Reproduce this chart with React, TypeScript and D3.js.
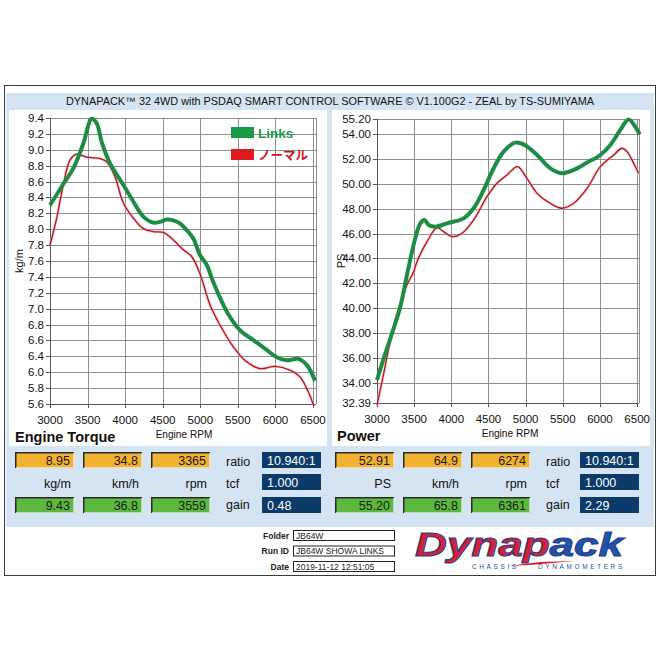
import React from "react";
import * as d3 from "d3";

const rpmTicks = [3000, 3500, 4000, 4500, 5000, 5500, 6000, 6500];
const torqueTickLabels = ["5.6", "5.8", "6.0", "6.4", "6.6", "6.8", "7.0", "7.2", "7.4", "7.6", "7.8", "8.0", "8.2", "8.4", "8.6", "8.8", "9.0", "9.2", "9.4"];
const powerTickValues = [32.39, 34, 36, 38, 40, 42, 44, 46, 48, 50, 52, 54, 55.2];

const torqueLinksRpm = [3000, 3156, 3310, 3443, 3555, 3621, 3688, 3798, 3976, 4109, 4242, 4375, 4464, 4553, 4641, 4730, 4819, 4907, 4996, 5085, 5173, 5352, 5529, 5706, 5884, 6017, 6150, 6305, 6416, 6527];
const torqueLinks = [8.24, 8.49, 8.73, 9.06, 9.39, 9.33, 9.08, 8.8, 8.51, 8.29, 8.09, 8.01, 8.02, 8.05, 8.04, 8.0, 7.91, 7.8, 7.58, 7.45, 7.22, 6.83, 6.58, 6.45, 6.32, 6.22, 6.18, 6.2, 6.12, 5.91];

const torqueNormalRpm = [3000, 3089, 3177, 3266, 3355, 3488, 3665, 3755, 3865, 3976, 4109, 4242, 4375, 4508, 4641, 4774, 4885, 4996, 5129, 5262, 5440, 5617, 5795, 5994, 6194, 6327, 6438, 6513];
const torqueNormal = [7.71, 8.07, 8.51, 8.84, 8.92, 8.88, 8.86, 8.82, 8.62, 8.27, 8.07, 7.93, 7.89, 7.88, 7.78, 7.65, 7.56, 7.33, 6.92, 6.65, 6.36, 6.16, 6.07, 6.1, 6.05, 5.96, 5.76, 5.57];

const powerLinksRpm = [3000, 3090, 3202, 3314, 3403, 3515, 3583, 3640, 3694, 3784, 3942, 4165, 4300, 4435, 4569, 4704, 4861, 4990, 5153, 5332, 5489, 5646, 5826, 6005, 6140, 6274, 6386, 6475, 6534];
const powerLinks = [34.24, 35.98, 37.99, 40.12, 42.67, 45.62, 46.82, 47.09, 46.69, 46.55, 46.82, 47.22, 48.03, 49.5, 51.24, 52.58, 53.3, 53.1, 52.31, 51.24, 50.84, 51.11, 51.7, 52.31, 53.12, 54.33, 55.15, 54.58, 53.97];

const powerNormalRpm = [3000, 3090, 3202, 3314, 3403, 3493, 3538, 3673, 3808, 3896, 4009, 4144, 4300, 4480, 4614, 4749, 4890, 5018, 5153, 5332, 5489, 5646, 5826, 6005, 6184, 6296, 6364, 6453, 6520];
const powerNormal = [32.2, 34.77, 37.99, 40.4, 41.87, 42.94, 43.74, 45.35, 46.47, 46.15, 45.75, 46.02, 47.09, 48.96, 50.04, 50.7, 51.37, 50.43, 49.23, 48.43, 48.03, 48.43, 49.63, 51.37, 52.31, 52.85, 52.58, 51.65, 50.84];

const legendNames = ["Links", "ノーマル"];

const torqueOrange = ["8.95", "34.8", "3365"];
const torqueGreen = ["9.43", "36.8", "3559"];
const torqueUnits = ["kg/m", "km/h", "rpm"];
const torqueDark = ["10.940:1", "1.000", "0.48"];
const powerOrange = ["52.91", "64.9", "6274"];
const powerGreen = ["55.20", "65.8", "6361"];
const powerUnits = ["PS", "km/h", "rpm"];
const powerDark = ["10.940:1", "1.000", "2.29"];
const sideLabels = ["ratio", "tcf", "gain"];

const footerLabels = ["Folder", "Run ID", "Date"];
const footerValues = ["JB64W", "JB64W SHOWA LINKS", "2019-11-12 12:51:05"];

const FONT = "'Liberation Sans', Arial, Helvetica, sans-serif";
const GREEN = "#1f8c45";
const RED = "#b0141e";
const GRID = "#8e8e8e";

type Series = { rpm: number[]; val: number[] };

function Chart(props: {
  x0: number; x1: number; y0: number; y1: number;
  xDomain: [number, number]; yDomain: [number, number];
  yTicks: { v: number; label: string }[];
  links: Series; normal: Series;
  yTitle: string; yTitleX: number; title: string; titleX: number; rpmTitleX: number;
  legend?: boolean;
}) {
  const { x0, x1, y0, y1, xDomain, yDomain, yTicks, links, normal } = props;
  const x = d3.scaleLinear().domain(xDomain).range([x0, x1]);
  const y = d3.scaleLinear().domain(yDomain).range([y1, y0]);
  const line = d3.line<[number, number]>().x((d) => x(d[0])).y((d) => y(d[1])).curve(d3.curveCatmullRom.alpha(0.5));
  const lp = line(links.rpm.map((r, i) => [r, links.val[i]]) as [number, number][]) || "";
  const np = line(normal.rpm.map((r, i) => [r, normal.val[i]]) as [number, number][]) || "";
  return (
    <g fontFamily={FONT}>
      {yTicks.map((t, i) => (
        <g key={"h" + i}>
          <line x1={x0} x2={x1} y1={Math.round(y(t.v)) + 0.5} y2={Math.round(y(t.v)) + 0.5} stroke={GRID} strokeWidth={1} />
          <line x1={x0 - 4} x2={x0} y1={Math.round(y(t.v)) + 0.5} y2={Math.round(y(t.v)) + 0.5} stroke="#555" strokeWidth={1} />
          <text x={x0 - 6} y={y(t.v) + 4} textAnchor="end" fontSize={11.5} fill="#111">{t.label}</text>
        </g>
      ))}
      {rpmTicks.map((r) => (
        <g key={"v" + r}>
          <line x1={Math.round(x(r)) + 0.5} x2={Math.round(x(r)) + 0.5} y1={y0} y2={y1} stroke={GRID} strokeWidth={1} />
          <line x1={Math.round(x(r)) + 0.5} x2={Math.round(x(r)) + 0.5} y1={y1} y2={y1 + 4} stroke="#555" strokeWidth={1} />
          <text x={x(r)} y={y1 + 20} textAnchor="middle" fontSize={11.5} fill="#111">{r}</text>
        </g>
      ))}
      <line x1={Math.round(x1) + 0.5} x2={Math.round(x1) + 0.5} y1={y0} y2={y1} stroke={GRID} strokeWidth={1} />
      <line x1={x0 + 0.5} x2={x0 + 0.5} y1={y0} y2={y1 + 1} stroke="#555" strokeWidth={1} />
      <line x1={x0} x2={x1} y1={y1 + 0.5} y2={y1 + 0.5} stroke="#555" strokeWidth={1} />
      <path d={np} fill="none" stroke="#f3a6a8" strokeWidth={3} strokeOpacity={0.55} />
      <path d={np} fill="none" stroke={RED} strokeWidth={1.3} />
      <path d={lp} fill="none" stroke={GREEN} strokeWidth={4} strokeLinejoin="round" />
      <text transform={`translate(${props.yTitleX},${(y0 + y1) / 2}) rotate(-90)`} textAnchor="middle" fontSize={11} fill="#111">{props.yTitle}</text>
      <text x={props.rpmTitleX} y={y1 + 34} textAnchor="middle" fontSize={11} fill="#111" transform={`translate(${props.rpmTitleX},0) scale(0.92,1) translate(${-props.rpmTitleX},0)`}>Engine RPM</text>
      <text x={props.titleX} y={y1 + 38} fontSize={14.5} fontWeight="bold" fill="#111">{props.title}</text>
      {props.legend && (
        <g>
          <rect x={231} y={127} width={23} height={11} fill="#1a9a48" />
          <text x={258} y={137.5} fontSize={13.5} fontWeight="bold" fill="#1a9a48">{legendNames[0]}</text>
          <rect x={231} y={149} width={23} height={11} fill="#e01a22" />
          <text x={258} y={159.5} fontSize={12.5} fontWeight="bold" fill="#d0141c" fontFamily="'Noto Sans CJK JP', sans-serif">{legendNames[1]}</text>
        </g>
      )}
    </g>
  );
}

function ValueBox(props: { x: number; y: number; w: number; fill: string; text: string; dark?: boolean }) {
  const { x, y, w, fill, text, dark } = props;
  const h = 16;
  return (
    <g fontFamily={FONT}>
      <rect x={x} y={y} width={w} height={h} fill={fill} />
      {!dark && <path d={`M${x + 0.75},${y + h} V${y + 0.75} H${x + w}`} fill="none" stroke="#2a2a2a" strokeWidth={1.5} />}
      {!dark && <path d={`M${x + w - 0.5},${y + 1} V${y + h - 0.5} H${x + 1}`} fill="none" stroke="#f6f6f0" strokeOpacity={0.6} strokeWidth={1} />}
      {dark ? (
        <text x={x + 5} y={y + 12.5} fontSize={12.5} fill="#fff">{text}</text>
      ) : (
        <text x={x + w - 4} y={y + 12.5} fontSize={12.5} textAnchor="end" fill="#1a1a1a">{text}</text>
      )}
    </g>
  );
}

function DataPanel(props: { ox: number; darkX: number; orange: string[]; green: string[]; units: string[]; dark: string[] }) {
  const { ox, darkX } = props;
  const bx = [15, 83, 151].map((v) => v + ox);
  const bw = 59;
  return (
    <g fontFamily={FONT}>
      {props.orange.map((t, i) => <ValueBox key={"o" + i} x={bx[i]} y={452} w={bw} fill="#f1b234" text={t} />)}
      {props.green.map((t, i) => <ValueBox key={"g" + i} x={bx[i]} y={497} w={bw} fill="#5cb93d" text={t} />)}
      {props.units.map((t, i) => (
        <text key={"u" + i} x={bx[i] + bw - 3} y={488} textAnchor="end" fontSize={12.5} fill="#111">{t}</text>
      ))}
      {sideLabels.map((t, i) => (
        <text key={"s" + i} x={ox + 226} y={[465.5, 488, 508.5][i]} fontSize={12.5} fill="#111">{t}</text>
      ))}
      {props.dark.map((t, i) => <ValueBox key={"d" + i} x={darkX} y={[452, 474, 497][i]} w={59} fill="#0c3b69" text={t} dark />)}
    </g>
  );
}

export default function App() {
  const torqueTicks = torqueTickLabels.map((l, i) => ({ v: 5.6 + (i * 3.8) / 18, label: l }));
  const powerTicks = powerTickValues.map((v) => ({ v, label: v.toFixed(2) }));
  return (
    <svg width={660} height={660} viewBox="0 0 660 660" style={{ position: "absolute", left: 0, top: 0, background: "#fff" }}>
      <rect x={0} y={0} width={660} height={660} fill="#fff" />
      <rect x={4.5} y={85.5} width={651} height={490} fill="#fff" stroke="#3a3a3a" strokeWidth={1} />
      <rect x={6} y={93} width={648} height={434} fill="#d5e4f2" />
      <text x={330} y={105} textAnchor="middle" fontFamily={FONT} fontSize={11} fill="#111" textLength={528} lengthAdjust="spacingAndGlyphs">
        DYNAPACK™ 32 4WD with PSDAQ SMART CONTROL SOFTWARE © V1.100G2 - ZEAL by TS-SUMIYAMA
      </text>
      <rect x={9} y={110} width={318} height={336} fill="#fff" />
      <rect x={332} y={110} width={318} height={336} fill="#fff" />
      <Chart
        x0={50} x1={316} y0={118} y1={404}
        xDomain={[3000, 6540]} yDomain={[5.6, 9.4]}
        yTicks={torqueTicks}
        links={{ rpm: torqueLinksRpm, val: torqueLinks }}
        normal={{ rpm: torqueNormalRpm, val: torqueNormal }}
        yTitle="kg/m" yTitleX={23} title="Engine Torque" titleX={15} rpmTitleX={184} legend
      />
      <Chart
        x0={377} x1={639} y0={119} y1={403}
        xDomain={[3000, 6525]} yDomain={[32.39, 55.2]}
        yTicks={powerTicks}
        links={{ rpm: powerLinksRpm, val: powerLinks }}
        normal={{ rpm: powerNormalRpm, val: powerNormal }}
        yTitle="PS" yTitleX={345} title="Power" titleX={337} rpmTitleX={510}
      />
      <DataPanel ox={0} darkX={262} orange={torqueOrange} green={torqueGreen} units={torqueUnits} dark={torqueDark} />
      <DataPanel ox={320} darkX={580} orange={powerOrange} green={powerGreen} units={powerUnits} dark={powerDark} />
      <g fontFamily={FONT}>
        {footerLabels.map((l, i) => (
          <g key={l}>
            <text x={289} y={538.5 + i * 15.5} textAnchor="end" fontSize={8.5} fontWeight="bold" fill="#222">{l}</text>
            <rect x={293.5} y={530.5 + i * 15.5} width={101} height={10} fill="#fff" stroke="#222" strokeWidth={1} />
            <text x={296} y={538.5 + i * 15.5} fontSize={8.5} fill="#222">{footerValues[i]}</text>
          </g>
        ))}
      </g>
      <g fontFamily={FONT}>
        <text x={415} y={556} fontSize={34} fontWeight="bold" fontStyle="italic" textLength={208} lengthAdjust="spacingAndGlyphs" stroke="#1d3f8f" strokeWidth={1}>
          <tspan fill="#d9212d">Dyna</tspan><tspan fill="#d9212d">p</tspan><tspan fill="#2353a8">ack</tspan>
        </text>
        <path d="M508,566 L540,562 L575,561 L530,565 Z" fill="#d9212d" />
        <text x={472} y={569} fontSize={6.5} fill="#2353a8" letterSpacing={2.6}>CHASSIS</text>
        <text x={538} y={569} fontSize={6.5} fill="#2353a8" letterSpacing={2.6}>DYNAMOMETERS</text>
      </g>
    </svg>
  );
}
